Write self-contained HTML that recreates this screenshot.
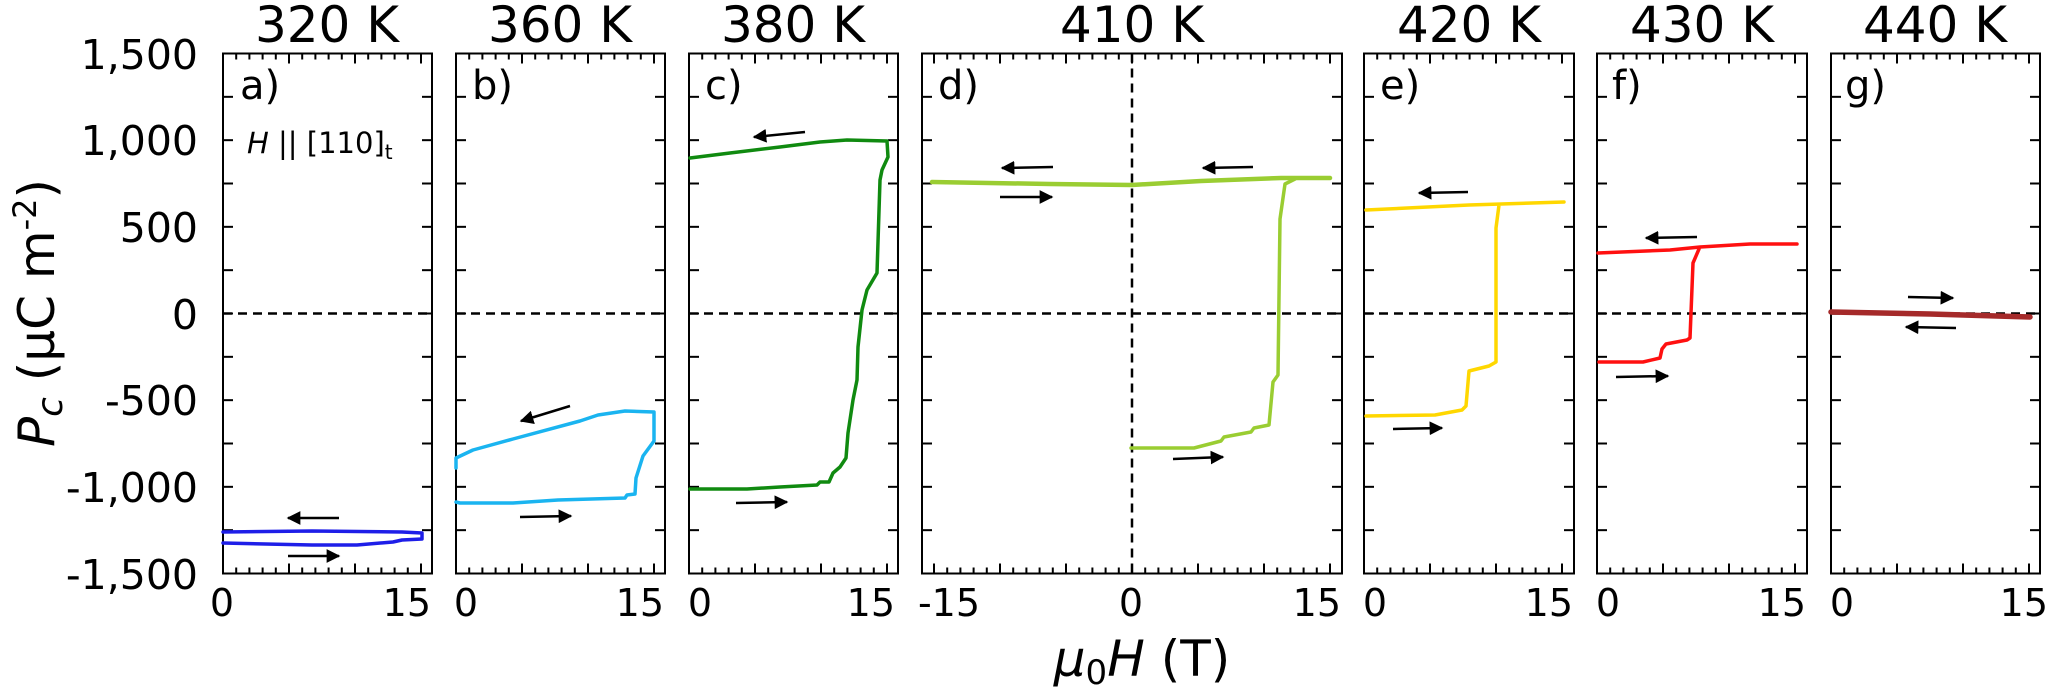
<!DOCTYPE html>
<html><head><meta charset="utf-8"><style>
html,body{margin:0;padding:0;background:#fff}
svg{display:block;font-family:"DejaVu Sans","Liberation Sans",sans-serif}
</style></head><body>
<svg id="s" width="2050" height="688" viewBox="0 0 2050 688" xmlns="http://www.w3.org/2000/svg">
<defs><marker id="ah" viewBox="0 0 10 10" refX="9" refY="5" markerWidth="5.5" markerHeight="5.5" orient="auto"><path d="M0,0 L10,5 L0,10 z" fill="#000"/></marker></defs>
<g id="axes"></g>
<g fill="none" stroke-linejoin="round" stroke-linecap="round">
<path stroke="#1e1ee8" stroke-width="3.5" d="M223,532 L312,531 L402,532 L422,533 L422,539 L402,540 L393,542 L357,545 L312,545 L223,543"/>
<path stroke="#1ab4f0" stroke-width="3.5" d="M456,468 L456,458 L473,450 L513,439 L580,421 L598,415 L625,411 L654,412 L654,441 L643,456 L636,478 L635,494 L627,495 L625,498 L558,500 L513,503 L460,503 L456,502"/>
<path stroke="#108a10" stroke-width="3.5" d="M690,158 L730,153 L780,147 L820,142 L847,140 L887,141 L888,157 L882,170 L880,180 L877,273 L867,290 L862,310 L858,347 L857,380 L853,400 L848,433 L846,458 L840,467 L833,473 L829,482 L820,482 L817,485 L780,487 L747,489 L690,489"/>
<path stroke="#9acd32" stroke-width="4.5" d="M932,182 L1050,184 L1132,185 L1201,181 L1281,178 L1330,178"/>
<path stroke="#9acd32" stroke-width="3.5" d="M1131,448 L1194,448 L1221,441 L1224,437 L1251,432 L1254,428 L1269,425 L1273,382 L1278,375 L1280,219 L1285,184 L1295,179"/>
<path stroke="#ffd700" stroke-width="3.5" d="M1366,210 L1469,205 L1564,202 M1499,205 L1496,228 L1496,362 L1489,366 L1469,371 L1466,406 L1462,410 L1435,415 L1366,416"/>
<path stroke="#ff1010" stroke-width="3.5" d="M1598,253 L1670,250 L1700,247 L1750,244 L1797,244 M1699,249 L1693,263 L1690,338 L1687,340 L1666,344 L1662,349 L1660,358 L1643,362 L1599,362"/>
<path stroke="#a52a2a" stroke-width="5.5" d="M1831,312 L1930,314 L2030,317"/>
</g>
<g stroke="#000" stroke-width="2.5" marker-end="url(#ah)">
<line x1="339" y1="518" x2="288" y2="518"/><line x1="288" y1="556" x2="339" y2="556"/>
<line x1="570" y1="406" x2="521" y2="421"/><line x1="520" y1="517" x2="571" y2="516"/>
<line x1="805" y1="132" x2="754" y2="137"/><line x1="736" y1="503" x2="787" y2="502"/>
<line x1="1053" y1="167" x2="1002" y2="168"/><line x1="1000" y1="197" x2="1052" y2="197"/>
<line x1="1253" y1="167" x2="1203" y2="168"/><line x1="1173" y1="459" x2="1223" y2="457"/>
<line x1="1468" y1="192" x2="1419" y2="193"/><line x1="1393" y1="429" x2="1442" y2="428"/>
<line x1="1697" y1="237" x2="1646" y2="238"/><line x1="1616" y1="377" x2="1668" y2="376"/>
<line x1="1908" y1="297" x2="1953" y2="298"/><line x1="1956" y1="328" x2="1906" y2="327"/>
</g>
<g font-size="41" fill="#000">
<text x="198" y="69" text-anchor="end">1,500</text>
<text x="198" y="155" text-anchor="end">1,000</text>
<text x="198" y="242" text-anchor="end">500</text>
<text x="198" y="329" text-anchor="end">0</text>
<text x="198" y="415" text-anchor="end">-500</text>
<text x="198" y="502" text-anchor="end">-1,000</text>
<text x="198" y="589" text-anchor="end">-1,500</text>
</g>
<g font-size="38" fill="#000">
<text x="222" y="616" text-anchor="middle">0</text><text x="431" y="616" text-anchor="end">15</text>
<text x="466" y="616" text-anchor="middle">0</text><text x="664" y="616" text-anchor="end">15</text>
<text x="700" y="616" text-anchor="middle">0</text><text x="895" y="616" text-anchor="end">15</text>
<text x="949" y="616" text-anchor="middle">-15</text><text x="1131" y="616" text-anchor="middle">0</text><text x="1341" y="616" text-anchor="end">15</text>
<text x="1375" y="616" text-anchor="middle">0</text><text x="1573" y="616" text-anchor="end">15</text>
<text x="1608" y="616" text-anchor="middle">0</text><text x="1806" y="616" text-anchor="end">15</text>
<text x="1842" y="616" text-anchor="middle">0</text><text x="2048" y="616" text-anchor="end">15</text>
</g>
<g font-size="50" fill="#000" text-anchor="middle">
<text x="327" y="42">320 K</text><text x="560" y="42">360 K</text><text x="793" y="42">380 K</text>
<text x="1132" y="42">410 K</text><text x="1469" y="42">420 K</text><text x="1702" y="42">430 K</text><text x="1935" y="42">440 K</text>
</g>
<g font-size="40" fill="#000">
<text x="240" y="99">a)</text><text x="472" y="99">b)</text><text x="705" y="99">c)</text><text x="938" y="99">d)</text>
<text x="1380" y="99">e)</text><text x="1612" y="99">f)</text><text x="1845" y="99">g)</text>
</g>
<text x="247" y="153" font-size="29"><tspan font-style="italic">H</tspan> || [110]<tspan font-size="20" dy="6">t</tspan></text>
<text transform="translate(54,313) rotate(-90)" text-anchor="middle" font-size="50"><tspan font-style="italic">P</tspan><tspan font-style="italic" font-size="36" dy="8">c</tspan><tspan dy="-8"> (μC m</tspan><tspan font-size="32" dy="-18">-2</tspan><tspan dy="18">)</tspan></text>
<text x="1142" y="676" text-anchor="middle" font-size="50"><tspan font-style="italic">μ</tspan><tspan font-size="34" dy="8">0</tspan><tspan font-style="italic" dy="-8">H</tspan> (T)</text>
</svg>
<script>
(function(){
var g=document.getElementById('axes'),h='';
var P=[[223,432,0],[456,665,0],[689,898,0],[922,1342,1],[1364,1574,0],[1597,1807,0],[1831,2040,0]];
var top=53.5,bot=573.5,s=198/15;
P.forEach(function(p){
 var L=p[0],R=p[1];
 h+='<rect x="'+L+'" y="'+top+'" width="'+(R-L)+'" height="'+(bot-top)+'" fill="none" stroke="#000" stroke-width="2"/>';
 for(var v=-1250;v<=1250;v+=250){var y=313.5-v*0.17333;
  h+='<line x1="'+L+'" y1="'+y+'" x2="'+(L+10)+'" y2="'+y+'" stroke="#000" stroke-width="2"/>';
  h+='<line x1="'+R+'" y1="'+y+'" x2="'+(R-10)+'" y2="'+y+'" stroke="#000" stroke-width="2"/>';}
 var x0=p[2]?(L+R)/2:L, tmin=p[2]?-15:0;
 for(var t=tmin;t<=15;t++){var x=x0+t*s;if(x<L+1||x>R-1)continue;var len=(t%5==0)?10:6;
  h+='<line x1="'+x+'" y1="'+bot+'" x2="'+x+'" y2="'+(bot-len)+'" stroke="#000" stroke-width="2"/>';
  h+='<line x1="'+x+'" y1="'+top+'" x2="'+x+'" y2="'+(top+len)+'" stroke="#000" stroke-width="2"/>';}
 h+='<line x1="'+L+'" y1="313.5" x2="'+R+'" y2="313.5" stroke="#000" stroke-width="2.5" stroke-dasharray="9,6"/>';
 if(p[2])h+='<line x1="'+x0+'" y1="'+top+'" x2="'+x0+'" y2="'+bot+'" stroke="#000" stroke-width="2.5" stroke-dasharray="9,6"/>';
});
g.innerHTML=h;
})();
</script>
</body></html>
